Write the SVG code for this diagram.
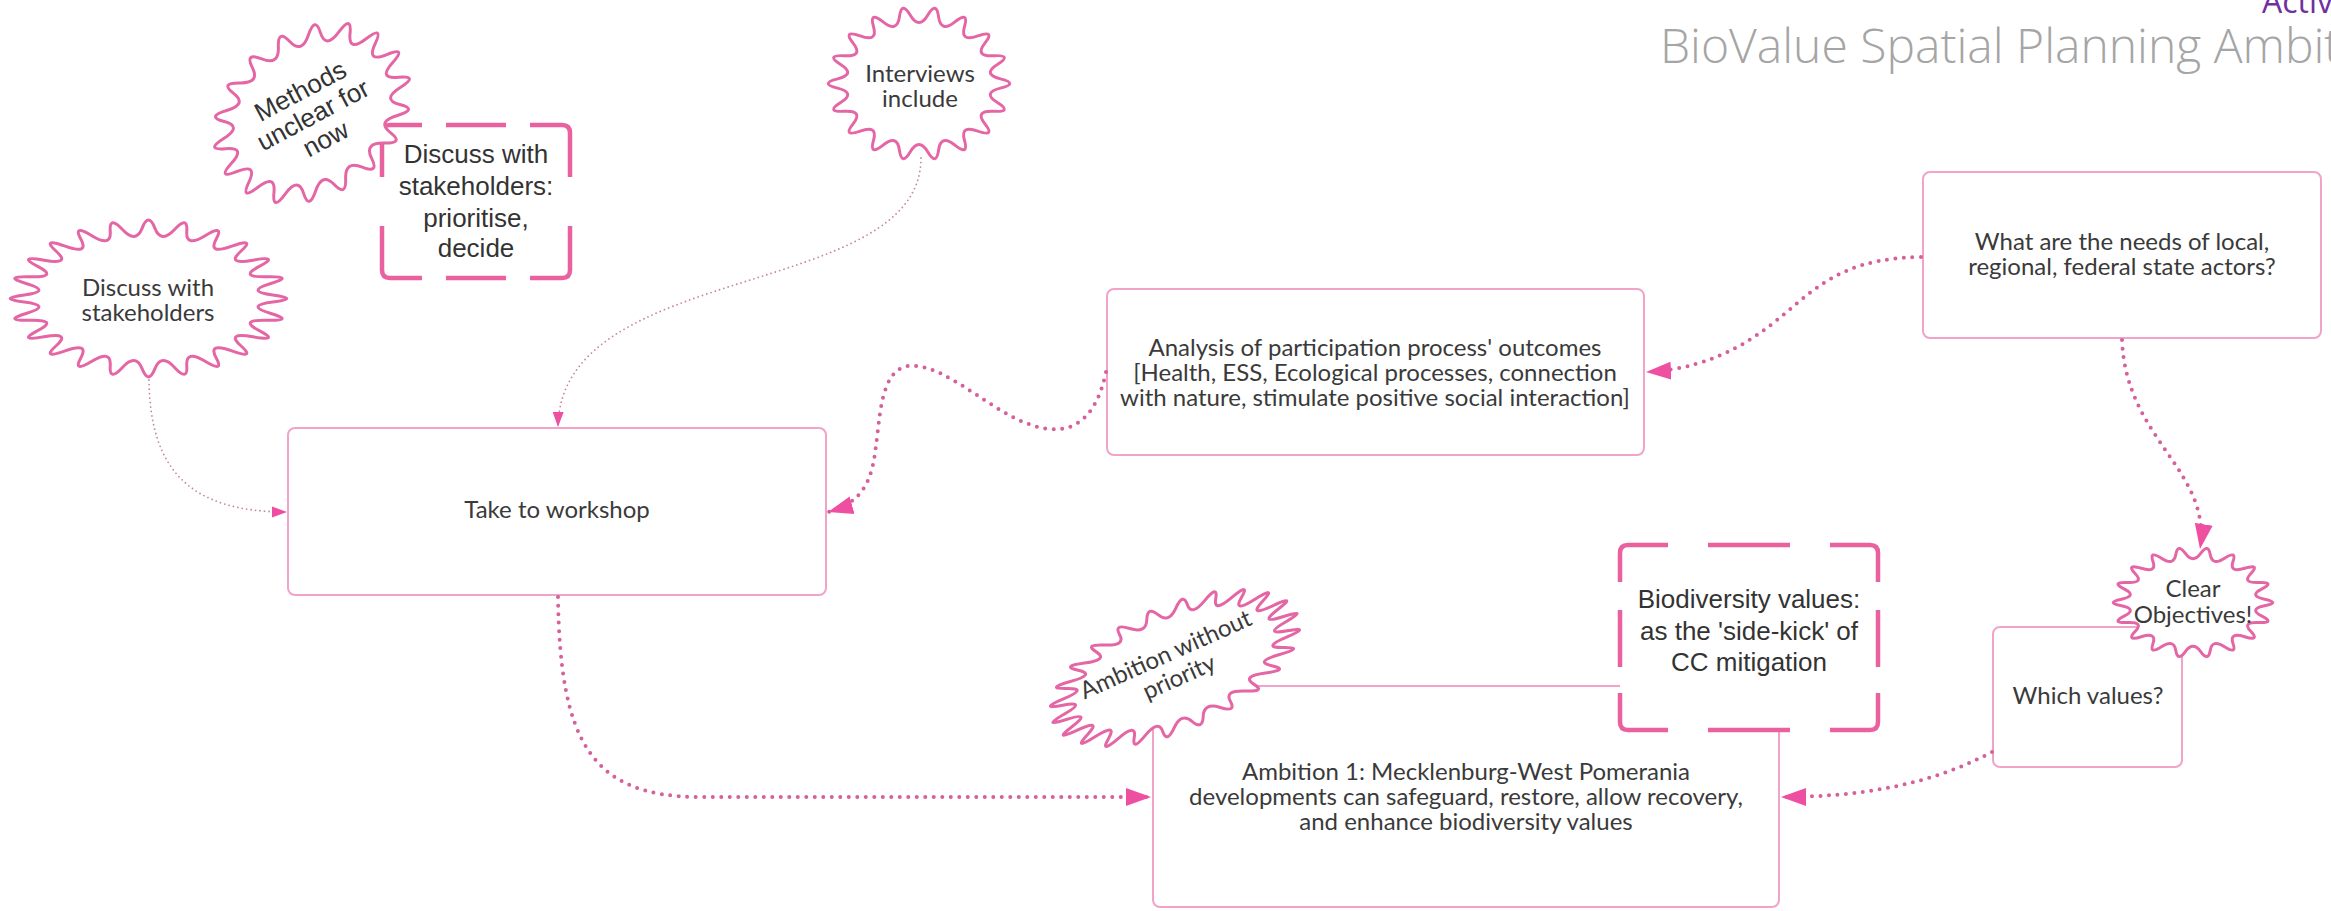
<svg xmlns="http://www.w3.org/2000/svg" xmlns:xlink="http://www.w3.org/1999/xlink" width="2331" height="911" viewBox="0 0 2331 911">
<style>
.box{fill:#fff;stroke:#F1A3C9;stroke-width:2}
.dash{fill:none;stroke:#E9619F;stroke-width:4.5;stroke-linejoin:round}
.dfill{fill:#fff;stroke:none}
.burst{fill:#fff;stroke:#E466A5;stroke-width:3;stroke-linejoin:round}
.t{font-family:Lato,"Open Sans",sans-serif;font-size:24px;fill:#3a3a3a;text-anchor:middle}
.ta{font-family:"Liberation Sans",Arial,sans-serif;font-size:26px;fill:#333;text-anchor:middle}
.thick{fill:none;stroke:#D4609C;stroke-width:4;stroke-dasharray:0 8.5;stroke-linecap:round}
.thin{fill:none;stroke:#C6869F;stroke-width:1.8;stroke-dasharray:0 4.5;stroke-linecap:round}
.title{font-family:"Open Sans",Lato,sans-serif;font-size:48px;font-weight:300}
</style>
<defs>
<path id="b18" vector-effect="non-scaling-stroke" d="M0.8947 -0.0608 Q1.1 0 0.8947 0.0608 T0.8616 0.2489 T0.82 0.3631 T0.7244 0.5286 T0.6463 0.6217 T0.5 0.7444 T0.3947 0.8052 T0.2152 0.8706 T0.0955 0.8917 T-0.0955 0.8917 T-0.2152 0.8706 T-0.3947 0.8052 T-0.5 0.7444 T-0.6463 0.6217 T-0.7244 0.5286 T-0.82 0.3631 T-0.8616 0.2489 T-0.8947 0.0608 T-0.8947 -0.0608 T-0.8616 -0.2489 T-0.82 -0.3631 T-0.7244 -0.5286 T-0.6463 -0.6217 T-0.5 -0.7444 T-0.3947 -0.8052 T-0.2152 -0.8706 T-0.0955 -0.8917 T0.0955 -0.8917 T0.2152 -0.8706 T0.3947 -0.8052 T0.5 -0.7444 T0.6463 -0.6217 T0.7244 -0.5286 T0.82 -0.3631 T0.8616 -0.2489 T0.8947 -0.0608 Z"/>
<path id="b24" vector-effect="non-scaling-stroke" d="M0.897 -0.0457 Q1.1 0 0.897 0.0457 T0.8783 0.1881 T0.8546 0.2763 T0.7997 0.409 T0.754 0.4881 T0.6666 0.602 T0.602 0.6666 T0.4881 0.754 T0.409 0.7997 T0.2763 0.8546 T0.1881 0.8783 T0.0457 0.897 T-0.0457 0.897 T-0.1881 0.8783 T-0.2763 0.8546 T-0.409 0.7997 T-0.4881 0.754 T-0.602 0.6666 T-0.6666 0.602 T-0.754 0.4881 T-0.7997 0.409 T-0.8546 0.2763 T-0.8783 0.1881 T-0.897 0.0457 T-0.897 -0.0457 T-0.8783 -0.1881 T-0.8546 -0.2763 T-0.7997 -0.409 T-0.754 -0.4881 T-0.6666 -0.602 T-0.602 -0.6666 T-0.4881 -0.754 T-0.409 -0.7997 T-0.2763 -0.8546 T-0.1881 -0.8783 T-0.0457 -0.897 T0.0457 -0.897 T0.1881 -0.8783 T0.2763 -0.8546 T0.409 -0.7997 T0.4881 -0.754 T0.602 -0.6666 T0.6666 -0.602 T0.754 -0.4881 T0.7997 -0.409 T0.8546 -0.2763 T0.8783 -0.1881 T0.897 -0.0457 Z"/>
<marker id="ah" markerUnits="userSpaceOnUse" markerWidth="26" markerHeight="20" refX="25" refY="10" orient="auto"><path d="M0,1 L25,10 L0,19 Z" fill="#EE4FA0"/></marker>
<marker id="ahs" markerUnits="userSpaceOnUse" markerWidth="16" markerHeight="12" refX="15" refY="6" orient="auto"><path d="M0,0.5 L15,6 L0,11.5 Z" fill="#EE4FA0"/></marker>
</defs>

<text class="title" style="font-size:32px;font-weight:400" x="2262" y="13" fill="#7030A0">Activ</text>
<text class="title" x="1660" y="63" fill="#A5A5A5">BioValue Spatial Planning Ambit</text>

<g id="take-to-workshop">
<rect class="box" x="288" y="428" width="538" height="167" rx="7"/>
<text class="t" x="557" y="518">Take to workshop</text>
</g>

<g id="analysis">
<rect class="box" x="1107" y="289" width="537" height="166" rx="7"/>
<text class="t" x="1375" y="356">Analysis of participation process' outcomes</text>
<text class="t" x="1375" y="381">[Health, ESS, Ecological processes, connection</text>
<text class="t" x="1375" y="406">with nature, stimulate positive social interaction]</text>
</g>

<g id="needs">
<rect class="box" x="1923" y="172" width="398" height="166" rx="7"/>
<text class="t" x="2122" y="250">What are the needs of local,</text>
<text class="t" x="2122" y="275">regional, federal state actors?</text>
</g>

<g id="which-values">
<rect class="box" x="1993" y="627" width="189" height="140" rx="7"/>
<text class="t" x="2088" y="704">Which values?</text>
</g>

<g id="clear-objectives">
<use href="#b18" class="burst" transform="translate(2193 602.5) scale(80 55)"/>
<text class="t" x="2193" y="597">Clear</text>
<text class="t" x="2193" y="623">Objectives!</text>
</g>

<g id="ambition-1">
<rect class="box" x="1153" y="686" width="626" height="221" rx="7"/>
<text class="t" x="1466" y="780">Ambition 1: Mecklenburg-West Pomerania</text>
<text class="t" x="1466" y="805">developments can safeguard, restore, allow recovery,</text>
<text class="t" x="1466" y="830">and enhance biodiversity values</text>
</g>

<g id="ambition-without-priority">
<use href="#b24" class="burst" transform="translate(1175 668) rotate(-24) scale(134 62)"/>
<g transform="rotate(-24 1175 668)">
<text class="t" x="1172" y="660">Ambition without</text>
<text class="t" x="1175" y="686">priority</text>
</g>
</g>

<g id="biodiversity-values">
<rect class="dfill" x="1620" y="545" width="258" height="185" rx="8"/>
<path class="dash" d="M1620 582 V553 Q1620 545 1628 545 H1668 M1708 545 H1790 M1830 545 H1870 Q1878 545 1878 553 V582 M1878 610 V667 M1878 693 V722 Q1878 730 1870 730 H1830 M1790 730 H1708 M1668 730 H1628 Q1620 730 1620 722 V693 M1620 667 V610"/>
<text class="ta" x="1749" y="608">Biodiversity values:</text>
<text class="ta" x="1749" y="640">as the 'side-kick' of</text>
<text class="ta" x="1749" y="671">CC mitigation</text>
</g>

<g id="discuss-prioritise">
<rect class="dfill" x="382" y="125" width="188" height="153" rx="8"/>
<path class="dash" d="M382 177 V133 Q382 125 390 125 H422 M446 125 H506 M530 125 H562 Q570 125 570 133 V177 M570 226 V270 Q570 278 562 278 H530 M506 278 H446 M422 278 H390 Q382 278 382 270 V226"/>
<text class="ta" x="476" y="163">Discuss with</text>
<text class="ta" x="476" y="195">stakeholders:</text>
<text class="ta" x="476" y="227">prioritise,</text>
<text class="ta" x="476" y="257">decide</text>
</g>

<g id="methods-unclear">
<use href="#b18" class="burst" transform="translate(312 113) rotate(-35) scale(106 82)"/>
<g transform="rotate(-28 312 113)">
<text class="ta" x="312" y="97">Methods</text>
<text class="ta" x="312" y="124">unclear for</text>
<text class="ta" x="312" y="151">now</text>
</g>
</g>

<g id="discuss-stakeholders">
<use href="#b24" class="burst" transform="translate(148.5 298.5) scale(138.5 78.5)"/>
<text class="t" x="148" y="296">Discuss with</text>
<text class="t" x="148" y="321">stakeholders</text>
</g>

<g id="interviews">
<use href="#b18" class="burst" transform="translate(919 83.5) scale(91 76.5)"/>
<text class="t" x="920" y="82">Interviews</text>
<text class="t" x="920" y="107">include</text>
</g>

<g id="connectors">
<path class="thin" marker-end="url(#ahs)" d="M149 380 C150 470 190 512 287 512"/>
<path class="thin" marker-end="url(#ahs)" d="M921 158 C921 300 560 260 558 427"/>
<path class="thick" marker-end="url(#ah)" d="M1106 372 C1098 410 1080 432 1050 429 C1000 425 950 362 908 366 C880 370 880 420 876 445 C872 485 860 503 828 512"/>
<path class="thick" marker-end="url(#ah)" d="M1921 257 C1860 258 1830 275 1795 305 C1760 335 1720 368 1646 372"/>
<path class="thick" marker-end="url(#ah)" d="M558 597 C560 740 590 797 700 797 L1151 797"/>
<path class="thick" marker-end="url(#ah)" d="M2122 340 C2126 440 2212 470 2200 549"/>
<path class="thick" marker-end="url(#ah)" d="M1992 752 C1930 785 1860 797 1781 797"/>
</g>
</svg>
